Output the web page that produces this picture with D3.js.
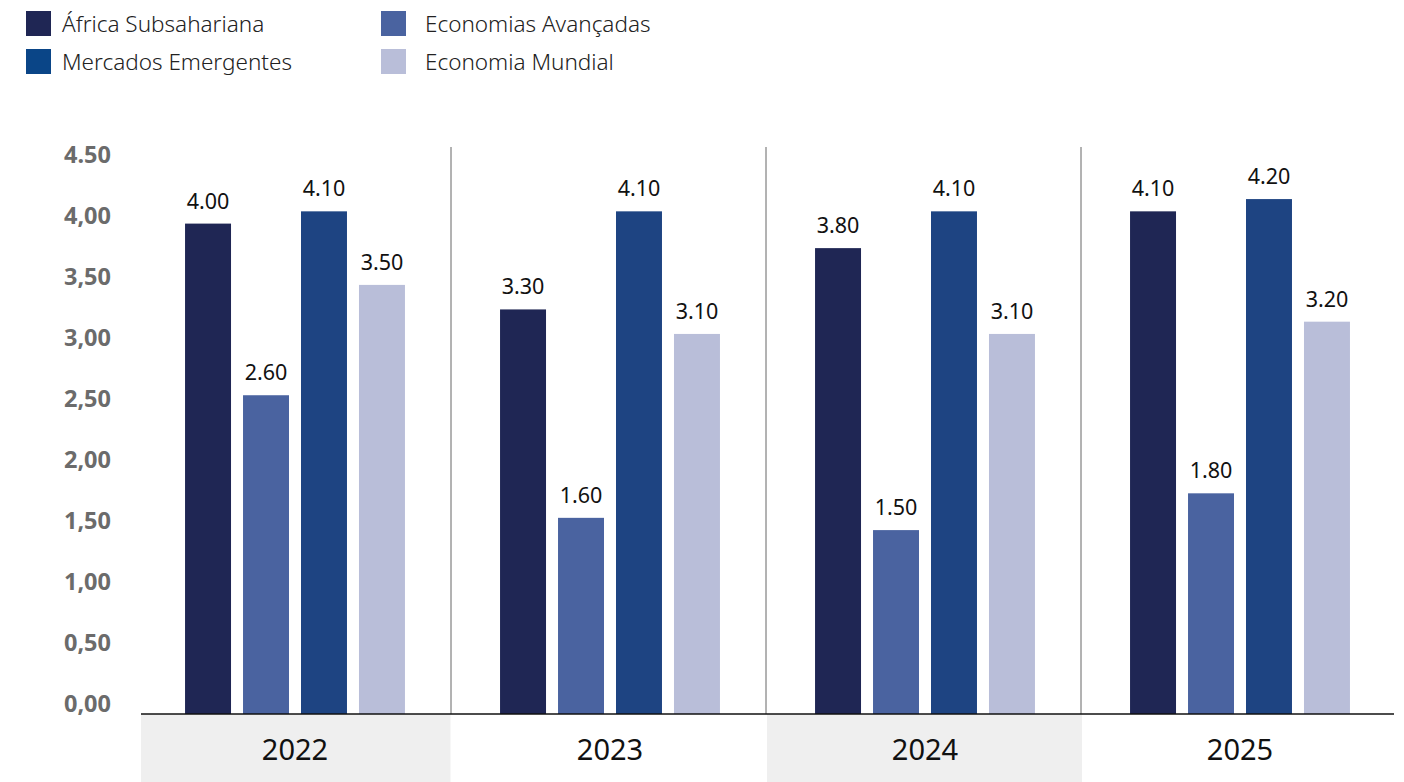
<!DOCTYPE html>
<html>
<head>
<meta charset="UTF-8">
<script src="https://cdn.jsdelivr.net/npm/d3@7/dist/d3.min.js"></script>
<style>
body { margin: 0; background: #fff; }
text { font-family: "Noto Sans", "Open Sans", sans-serif; }
</style>
</head>
<body>
<script>

var width = 1404;
var height = 782;

// data
var years = ["2022", "2023", "2024", "2025"];
var series = ["África Subsahariana", "Economias Avançadas", "Mercados Emergentes", "Economia Mundial"];
var africa   = [4.00, 3.30, 3.80, 4.10];
var avancadas = [2.60, 1.60, 1.50, 1.80];
var emergentes = [4.10, 4.10, 4.10, 4.20];
var mundial  = [3.50, 3.10, 3.10, 3.20];
var tickValues = [0, 0.5, 1, 1.5, 2, 2.5, 3, 3.5, 4, 4.5];
var tickLabels = ["0,00", "0,50", "1,00", "1,50", "2,00", "2,50", "3,00", "3,50", "4,00", "4.50"];

var values = [africa, avancadas, emergentes, mundial];
var colors = ["#1f2654", "#4a63a0", "#1e4482", "#b9bed9"];
var legendColors = ["#1f2654", "#4a63a0", "#0a4587", "#b9bed9"];

var baseline = 714;

var svg = d3.select("body")
    .append("svg")
    .attr("width", width)
    .attr("height", height);

var x0 = d3.scaleBand()
    .domain(years)
    .range([137.5, 1397.5]);

var x1 = d3.scaleBand()
    .domain(d3.range(series.length))
    .range([0, x0.bandwidth()])
    .paddingInner(0.207)
    .paddingOuter(0.82);

var y = d3.scaleLinear()
    .domain([0, 4.5])
    .range([baseline, baseline - 4.5 * 122.6]);

// grey bands behind year labels
svg.selectAll(".band")
    .data(years)
    .enter().append("rect")
    .attr("x", function(d) { return x0(d) + (d == "2022" ? 3.5 : -0.5); })
    .attr("y", baseline)
    .attr("width", function(d) { return x0.bandwidth() - (d == "2022" ? 5.5 : 0); })
    .attr("height", height - baseline)
    .attr("fill", function(d, i) { return i % 2 == 0 ? "#efefef" : "none"; });

// separators
svg.selectAll(".sep")
    .data(years.slice(1))
    .enter().append("line")
    .attr("x1", function(d) { return x0(d) - 1.5; })
    .attr("x2", function(d) { return x0(d) - 1.5; })
    .attr("y1", 147)
    .attr("y2", baseline)
    .attr("stroke", "#666")
    .attr("stroke-width", 1);

// bars
var groups = svg.selectAll(".grp")
    .data(years)
    .enter().append("g")
    .attr("transform", function(d) { return "translate(" + x0(d) + ",0)"; });

groups.selectAll("rect")
    .data(function(d, i) { return values.map(function(s, k) { return {k: k, v: s[i]}; }); })
    .enter().append("rect")
    .attr("x", function(d) { return x1(d.k); })
    .attr("width", x1.bandwidth())
    .attr("y", function(d) { return y(d.v); })
    .attr("height", function(d) { return baseline - y(d.v); })
    .attr("fill", function(d) { return colors[d.k]; });

groups.selectAll(".val")
    .data(function(d, i) { return values.map(function(s, k) { return {k: k, v: s[i]}; }); })
    .enter().append("text")
    .attr("x", function(d) { return x1(d.k) + x1.bandwidth() / 2; })
    .attr("y", function(d) { return y(d.v) - 15; })
    .attr("text-anchor", "middle")
    .attr("font-size", 21.5)
    .attr("fill", "#111")
    .text(function(d) { return d.v.toFixed(2); });

// axis line
svg.append("line")
    .attr("x1", 141)
    .attr("x2", 1394)
    .attr("y1", baseline)
    .attr("y2", baseline)
    .attr("stroke", "#111")
    .attr("stroke-width", 1.5);

// y labels
svg.selectAll(".ylab")
    .data(tickValues)
    .enter().append("text")
    .attr("x", 111)
    .attr("y", function(d) { return y(d) - 2 + 2.7 * (d / 4.5); })
    .attr("text-anchor", "end")
    .attr("font-size", 23.5)
    .attr("font-weight", "bold")
    .attr("fill", "#6b6b6b")
    .text(function(d, i) { return tickLabels[i]; });

// year labels
svg.selectAll(".year")
    .data(years)
    .enter().append("text")
    .attr("x", function(d) { return x0(d) + x0.bandwidth() / 2; })
    .attr("y", 760)
    .attr("text-anchor", "middle")
    .attr("font-size", 29)
    .attr("fill", "#111")
    .text(function(d) { return d; });

// legend
var legendPos = [[26, 11], [381, 11], [26, 49], [381, 49]];
var leg = svg.selectAll(".leg")
    .data(series)
    .enter().append("g")
    .attr("transform", function(d, i) { return "translate(" + legendPos[i][0] + "," + legendPos[i][1] + ")"; });

leg.append("rect")
    .attr("width", 25)
    .attr("height", 25)
    .attr("fill", function(d, i) { return legendColors[i]; });

leg.append("text")
    .attr("x", function(d, i) { return i % 2 == 0 ? 36 : 44; })
    .attr("y", 21)
    .attr("font-size", 22.5)
    .attr("font-weight", 300)
    .attr("fill", "#222")
    .text(function(d) { return d; });

</script>
</body>
</html>
